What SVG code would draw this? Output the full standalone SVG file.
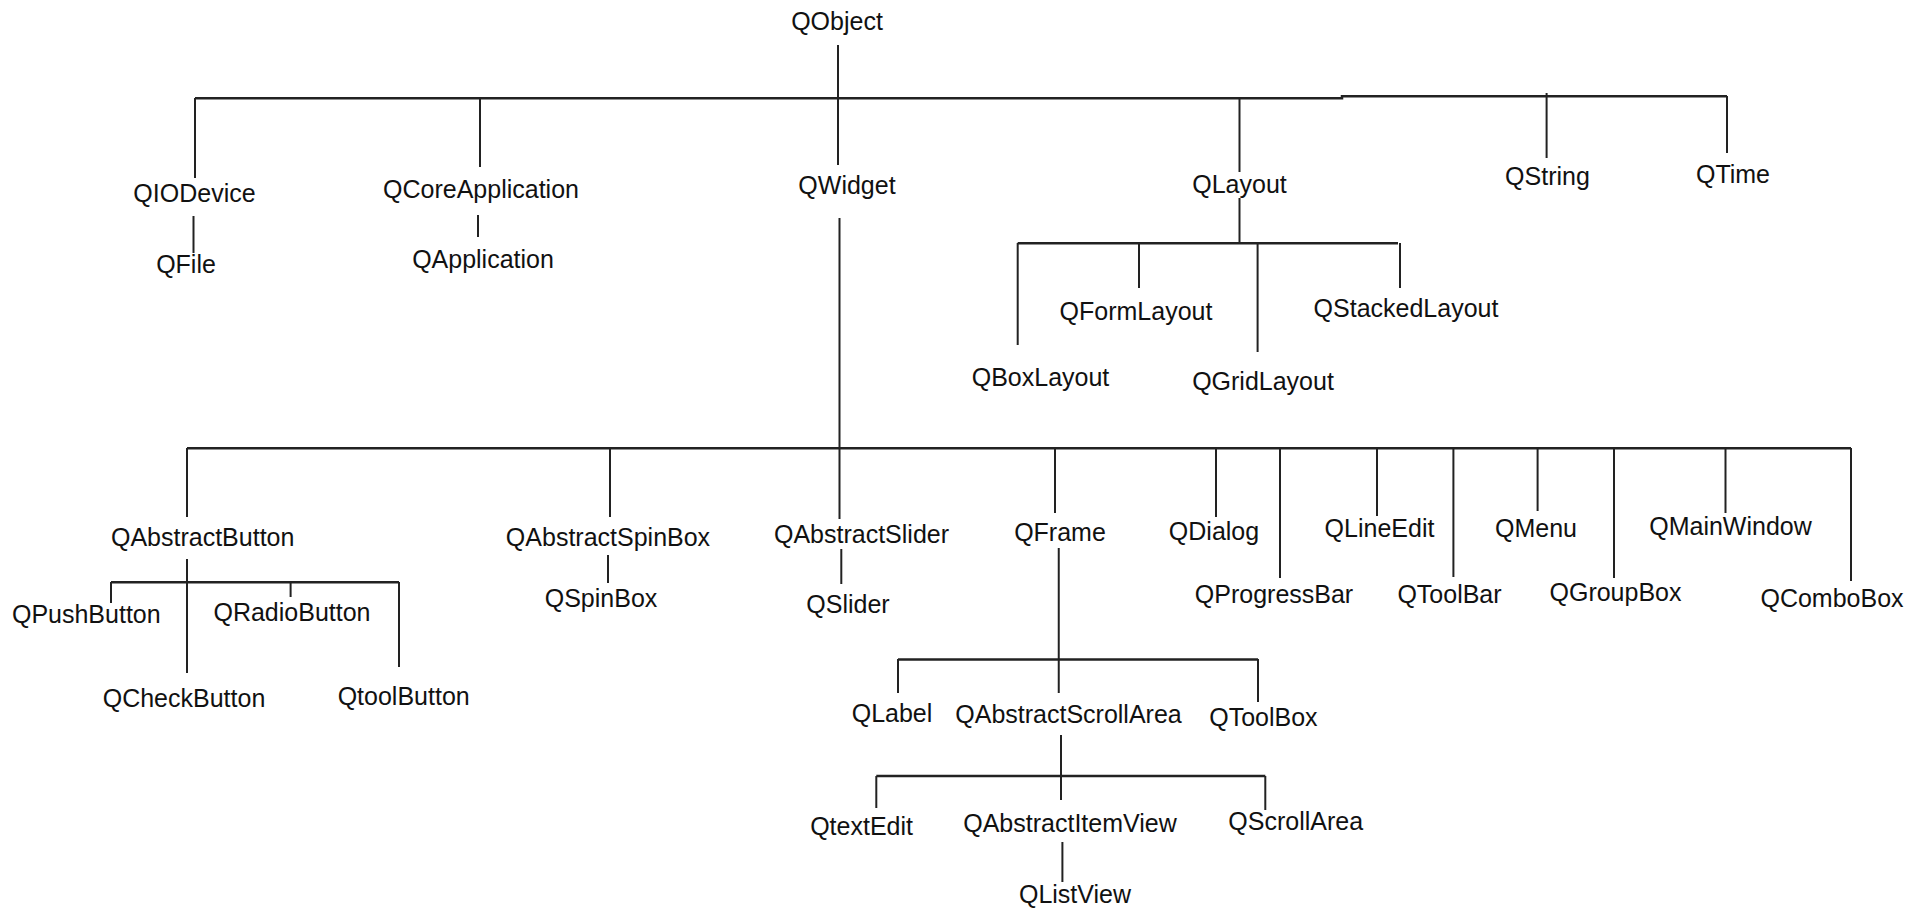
<svg xmlns="http://www.w3.org/2000/svg" width="1923" height="909" viewBox="0 0 1923 909">
<style>
.bg{fill:#ffffff}
.n text{font-family:"Liberation Sans",Arial,sans-serif;font-size:25px;fill:#111;text-anchor:middle}
#connectors path{fill:none;stroke:#222;stroke-width:2;stroke-linecap:butt}
#connectors path.bus{stroke-width:2.5}
</style>
<rect class="bg" x="0" y="0" width="1923" height="909"/>
<g id="connectors">
<path class="bus" d="M195 98.3 H1342 V96.3 H1727"/>
<path d="M838 45 V165"/>
<path d="M195 98 V178"/>
<path d="M480 98 V167"/>
<path d="M1239.5 98 V172"/>
<path d="M1546.6 93 V158"/>
<path d="M1727 96 V153"/>
<path d="M193.5 216 V253"/>
<path d="M478 215 V237"/>
<path d="M1239.5 198 V243"/>
<path class="bus" d="M1017.7 243.3 H1398"/>
<path d="M1017.7 243 V345"/>
<path d="M1139 243 V288"/>
<path d="M1257.6 243 V352"/>
<path d="M1400 243 V288"/>
<path d="M839.5 218 V519"/>
<path class="bus" d="M187 448.3 H1851"/>
<path d="M187 448 V517"/>
<path d="M610 448 V517"/>
<path d="M1055 448 V513"/>
<path d="M1216 448 V517"/>
<path d="M1280 448 V578"/>
<path d="M1377 448 V516"/>
<path d="M1453.4 448 V577"/>
<path d="M1537.6 448 V511"/>
<path d="M1614 448 V578"/>
<path d="M1725.5 448 V513"/>
<path d="M1851 448 V581"/>
<path d="M608 555 V583"/>
<path d="M841.3 549 V584"/>
<path d="M187 559 V673"/>
<path class="bus" d="M111 582.3 H399"/>
<path d="M111 582 V603"/>
<path d="M290.6 582 V597"/>
<path d="M399 582 V667"/>
<path d="M1058.75 548 V693"/>
<path class="bus" d="M898 659.5 H1258"/>
<path d="M898 659 V693"/>
<path d="M1258 659 V702"/>
<path d="M1061 735 V800"/>
<path class="bus" d="M876.3 776 H1265.3"/>
<path d="M876.3 776 V808"/>
<path d="M1265.3 776 V810"/>
<path d="M1062.4 842 V882"/>
</g>
<g id="n-QObject" class="n"><text x="837" y="30">QObject</text></g>
<g id="n-QIODevice" class="n"><text x="194.5" y="202">QIODevice</text></g>
<g id="n-QFile" class="n"><text x="186" y="273">QFile</text></g>
<g id="n-QCoreApplication" class="n"><text x="481" y="198">QCoreApplication</text></g>
<g id="n-QApplication" class="n"><text x="483" y="268">QApplication</text></g>
<g id="n-QWidget" class="n"><text x="847" y="194">QWidget</text></g>
<g id="n-QLayout" class="n"><text x="1239.5" y="193">QLayout</text></g>
<g id="n-QString" class="n"><text x="1547.5" y="185">QString</text></g>
<g id="n-QTime" class="n"><text x="1733" y="182.7">QTime</text></g>
<g id="n-QFormLayout" class="n"><text x="1136" y="320">QFormLayout</text></g>
<g id="n-QStackedLayout" class="n"><text x="1406" y="316.7">QStackedLayout</text></g>
<g id="n-QBoxLayout" class="n"><text x="1040.5" y="386">QBoxLayout</text></g>
<g id="n-QGridLayout" class="n"><text x="1263" y="390">QGridLayout</text></g>
<g id="n-QAbstractButton" class="n"><text x="202.7" y="546">QAbstractButton</text></g>
<g id="n-QAbstractSpinBox" class="n"><text x="608" y="546">QAbstractSpinBox</text></g>
<g id="n-QSpinBox" class="n"><text x="601" y="607">QSpinBox</text></g>
<g id="n-QAbstractSlider" class="n"><text x="861.5" y="542.7">QAbstractSlider</text></g>
<g id="n-QSlider" class="n"><text x="848" y="612.7">QSlider</text></g>
<g id="n-QFrame" class="n"><text x="1060" y="541">QFrame</text></g>
<g id="n-QDialog" class="n"><text x="1214" y="540">QDialog</text></g>
<g id="n-QProgressBar" class="n"><text x="1274" y="603">QProgressBar</text></g>
<g id="n-QLineEdit" class="n"><text x="1379.5" y="537.3">QLineEdit</text></g>
<g id="n-QToolBar" class="n"><text x="1449.5" y="602.7">QToolBar</text></g>
<g id="n-QMenu" class="n"><text x="1536" y="537.3">QMenu</text></g>
<g id="n-QGroupBox" class="n"><text x="1615.5" y="600.7">QGroupBox</text></g>
<g id="n-QMainWindow" class="n"><text x="1730.5" y="535">QMainWindow</text></g>
<g id="n-QComboBox" class="n"><text x="1832" y="606.7">QComboBox</text></g>
<g id="n-QPushButton" class="n"><text x="86.3" y="622.7">QPushButton</text></g>
<g id="n-QRadioButton" class="n"><text x="292" y="621">QRadioButton</text></g>
<g id="n-QCheckButton" class="n"><text x="184" y="706.7">QCheckButton</text></g>
<g id="n-QtoolButton" class="n"><text x="403.7" y="705">QtoolButton</text></g>
<g id="n-QLabel" class="n"><text x="892" y="721.7">QLabel</text></g>
<g id="n-QAbstractScrollArea" class="n"><text x="1068.5" y="723.3">QAbstractScrollArea</text></g>
<g id="n-QToolBox" class="n"><text x="1263.4" y="726">QToolBox</text></g>
<g id="n-QtextEdit" class="n"><text x="861.6" y="835">QtextEdit</text></g>
<g id="n-QAbstractItemView" class="n"><text x="1070" y="831.7">QAbstractItemView</text></g>
<g id="n-QScrollArea" class="n"><text x="1295.7" y="830">QScrollArea</text></g>
<g id="n-QListView" class="n"><text x="1075" y="903.3">QListView</text></g>
</svg>
